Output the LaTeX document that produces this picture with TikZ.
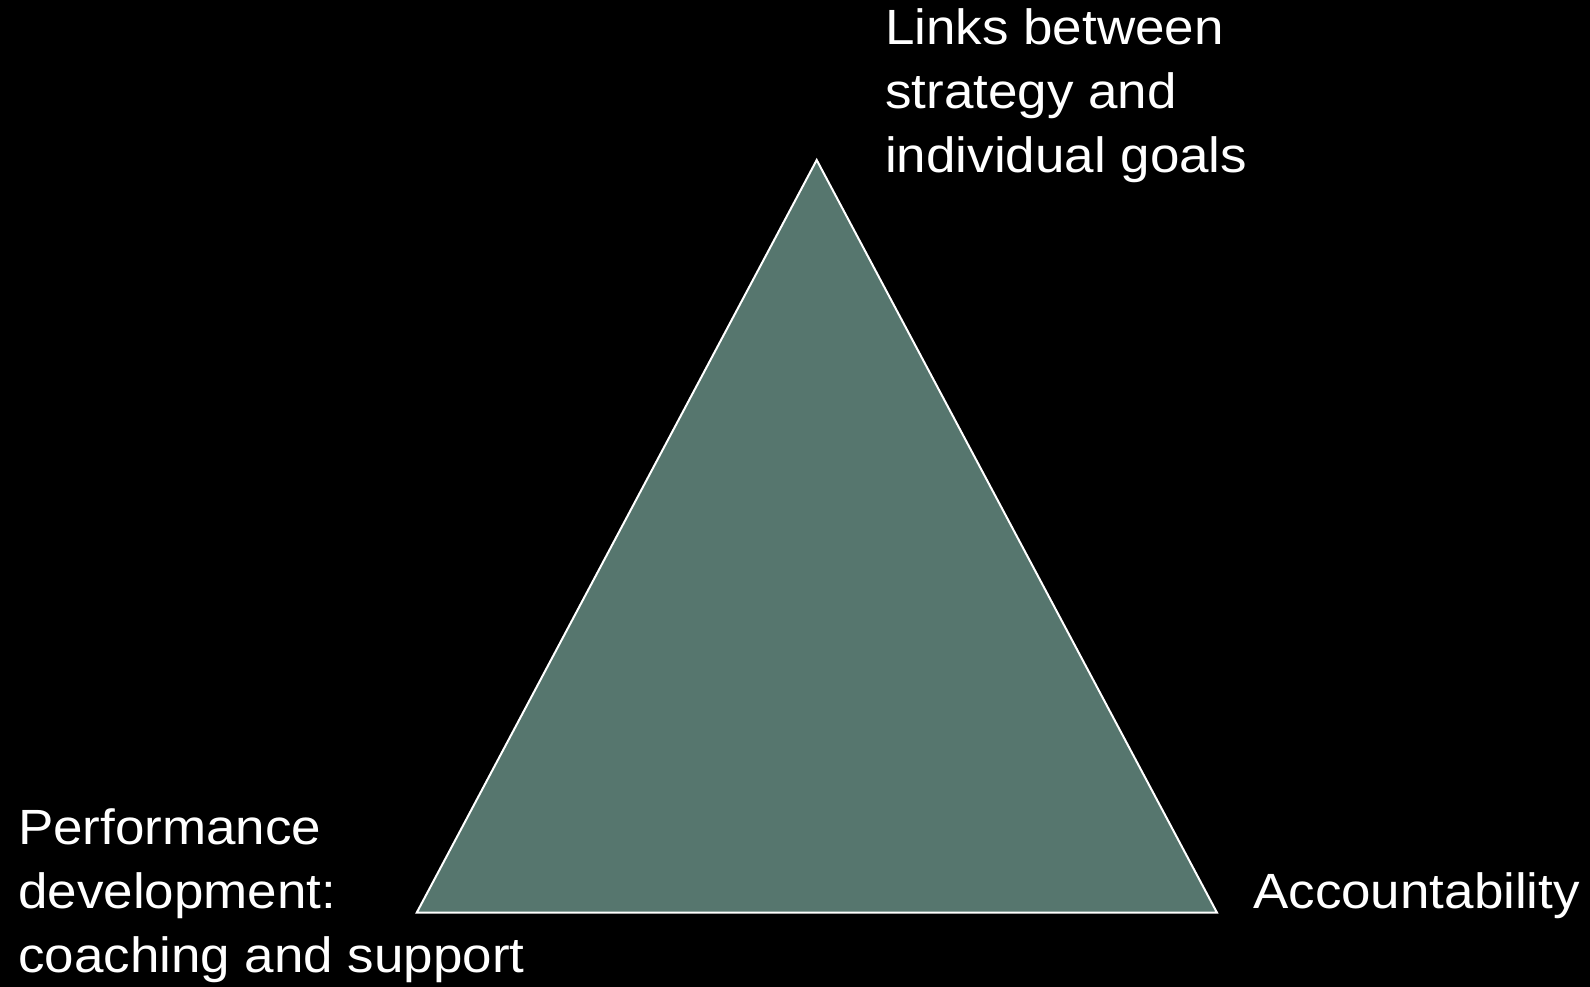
\documentclass[tikz,border=0pt]{standalone}
\usepackage{fontspec}
\setmainfont[FakeStretch=1.07]{Liberation Sans}
\begin{document}
\begin{tikzpicture}[x=1pt,y=-1pt,
  lbl/.style={text=white,inner sep=0pt,align=left,font=\fontsize{49.5}{64}\selectfont},
  tri/.style={fill=triFill,draw=white,line width=2pt,line join=miter}]
\definecolor{triFill}{HTML}{56766E}
\useasboundingbox (0,0) rectangle (1590,987);
\fill[black] (0,0) rectangle (1590,987);
\coordinate (apex) at (816.7,160);
\coordinate (bl) at (416.7,912.7);
\coordinate (br) at (1217,912.7);
\filldraw[tri] (apex) -- (bl) -- (br) -- cycle;
\node[lbl,anchor=base west] (goals) at (885,173) {Links between\\strategy and\\individual goals};
\node[lbl,anchor=base west] (perf) at (18,972) {Performance\\development:\\coaching and support};
\node[lbl,anchor=base west] (acc) at (1253,908) {Accountability};
\end{tikzpicture}
\end{document}
